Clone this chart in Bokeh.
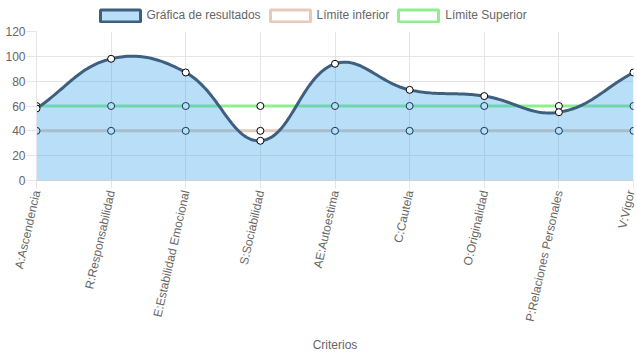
import numpy as np
from bokeh.plotting import figure
from bokeh.layouts import column
from bokeh.models import Range1d, FixedTicker, Legend, LegendItem, ColumnDataSource
from bokeh.embed import file_html
from bokeh.resources import INLINE

categories = ["A:Ascendencia", "R:Responsabilidad", "E:Estabilidad Emocional",
              "S:Sociabilidad", "AE:Autoestima", "C:Cautela", "O:Originalidad",
              "P:Relaciones Personales", "V:Vigor"]
resultados = [58, 98, 87, 32, 94, 73, 68, 55, 87]
limite_inferior = [40, 40, 40, 40, 40, 40, 40, 40, 40]
limite_superior = [60, 60, 60, 60, 60, 60, 60, 60, 60]
y_ticks = [0, 20, 40, 60, 80, 100, 120]

FONT = "Liberation Sans"
GREY = "#666666"
W = 637
LEG_H = 26
H = 359 - LEG_H
ML, MR, MT, MB = 36, 4, 5, 179

xs = list(range(len(categories)))
sx = (W - ML - MR) / (len(categories) - 1)
sy = (H - MT - MB) / 120.0


def spline(xv, yv, t=0.4, n=40):
    px = [x * sx for x in xv]
    py = [y * sy for y in yv]
    m = len(px)
    cps = []
    for i in range(m):
        pi = max(i - 1, 0)
        ni = min(i + 1, m - 1)
        d01 = float(np.hypot(px[i] - px[pi], py[i] - py[pi]))
        d12 = float(np.hypot(px[ni] - px[i], py[ni] - py[i]))
        tot = d01 + d12
        s01 = d01 / tot if tot else 0.0
        s12 = d12 / tot if tot else 0.0
        fa, fb = t * s01, t * s12
        dx, dy = px[ni] - px[pi], py[ni] - py[pi]
        prev = (px[i] - fa * dx, min(max(py[i] - fa * dy, 0.0), 120 * sy))
        nxt = (px[i] + fb * dx, min(max(py[i] + fb * dy, 0.0), 120 * sy))
        cps.append((prev, nxt))
    ox, oy = [], []
    for i in range(m - 1):
        p0 = np.array([px[i], py[i]])
        c1 = np.array(cps[i][1])
        c2 = np.array(cps[i + 1][0])
        p3 = np.array([px[i + 1], py[i + 1]])
        ts = np.linspace(0, 1, n, endpoint=(i == m - 2))
        for tt in ts:
            b = ((1 - tt) ** 3) * p0 + 3 * ((1 - tt) ** 2) * tt * c1 + 3 * (1 - tt) * tt * tt * c2 + tt ** 3 * p3
            ox.append(float(b[0] / sx))
            oy.append(float(b[1] / sy))
    return ox, oy


cx, cy = spline(xs, resultados)

p = figure(width=W, height=H, x_range=Range1d(0, len(categories) - 1), y_range=Range1d(0, 120),
           output_backend="svg", toolbar_location=None,
           min_border_left=ML, min_border_right=MR, min_border_top=MT, min_border_bottom=MB)
p.outline_line_color = None
p.background_fill_color = "white"

# axes
p.xaxis.ticker = FixedTicker(ticks=xs)
p.xaxis.major_label_overrides = {i: c for i, c in enumerate(categories)}
p.xaxis.major_label_orientation = 1.35
p.xaxis.axis_label = "Criterios"
p.xaxis.axis_label_text_font_style = "normal"
p.xaxis.axis_label_standoff = 11
p.yaxis.ticker = FixedTicker(ticks=y_ticks)
for ax in (p.xaxis[0], p.yaxis[0]):
    ax.major_label_text_font = FONT
    ax.major_label_text_font_size = "12px"
    ax.major_label_text_color = GREY
    ax.axis_label_text_font = FONT
    ax.axis_label_text_font_size = "12px"
    ax.axis_label_text_color = GREY
    ax.minor_tick_line_color = None
    ax.major_tick_line_color = "#e5e5e5"
    ax.major_tick_in = 0
ax = p.yaxis[0]
ax.major_tick_out = 10
ax.major_label_standoff = 1
ax.axis_line_color = "#e5e5e5"
ax = p.xaxis[0]
ax.major_tick_out = 8
ax.major_label_standoff = 2
ax.axis_line_color = "#d0d0d0"

p.xgrid.ticker = FixedTicker(ticks=xs)
p.ygrid.ticker = FixedTicker(ticks=y_ticks)
p.xgrid.grid_line_color = "#e5e5e5"
p.ygrid.grid_line_color = "#e5e5e5"

# limit lines
inf_col = "#e6cab9"
sup_col = "#90ee90"
p.line(xs, limite_inferior, line_color=inf_col, line_width=3)
p.line(xs, limite_superior, line_color=sup_col, line_width=3)
p.scatter(xs, limite_inferior, size=7, fill_color="white", line_color="black", line_width=1)
p.scatter(xs, limite_superior, size=7, fill_color="white", line_color="black", line_width=1)

# results
res_fill = "#36a2eb"
res_line = "#3e5f7f"
p.varea(x=cx, y1=[0.0] * len(cx), y2=cy, fill_color=res_fill, fill_alpha=0.35)
p.line(cx, cy, line_color=res_line, line_width=3)
p.scatter(xs, resultados, size=7, fill_color="white", line_color="black", line_width=1)

# legend in its own strip above the chart (proxy glyphs sit outside its visible range)
lf = figure(width=W, height=LEG_H, x_range=Range1d(0, 1), y_range=Range1d(0, 1),
            output_backend="svg", toolbar_location=None,
            min_border_left=0, min_border_right=0, min_border_top=0, min_border_bottom=0,
            x_axis_location=None, y_axis_location=None)
lf.outline_line_color = None
lf.grid.visible = False


def proxy():
    return ColumnDataSource(dict(left=[5], right=[6], top=[6], bottom=[5]))


r1 = lf.quad(left="left", right="right", top="top", bottom="bottom", source=proxy(),
             fill_color=res_fill, fill_alpha=0.35, line_color=res_line, line_width=3)
r2 = lf.quad(left="left", right="right", top="top", bottom="bottom", source=proxy(),
             fill_color="white", line_color=inf_col, line_width=3)
r3 = lf.quad(left="left", right="right", top="top", bottom="bottom", source=proxy(),
             fill_color="white", line_color=sup_col, line_width=3)
legend = Legend(items=[LegendItem(label="Gráfica de resultados", renderers=[r1], index=0),
                       LegendItem(label="Límite inferior", renderers=[r2], index=0),
                       LegendItem(label="Límite Superior", renderers=[r3], index=0)],
                orientation="horizontal", location=(58.5, 3.5),
                glyph_width=50, glyph_height=15, label_height=12, label_standoff=2, spacing=4,
                padding=0, margin=0, border_line_color=None, background_fill_alpha=0,
                label_text_font=FONT, label_text_font_size="12px", label_text_color=GREY)
lf.add_layout(legend, "center")

layout = column(lf, p, spacing=0)
open("out.html", "w").write(file_html(layout, INLINE))
